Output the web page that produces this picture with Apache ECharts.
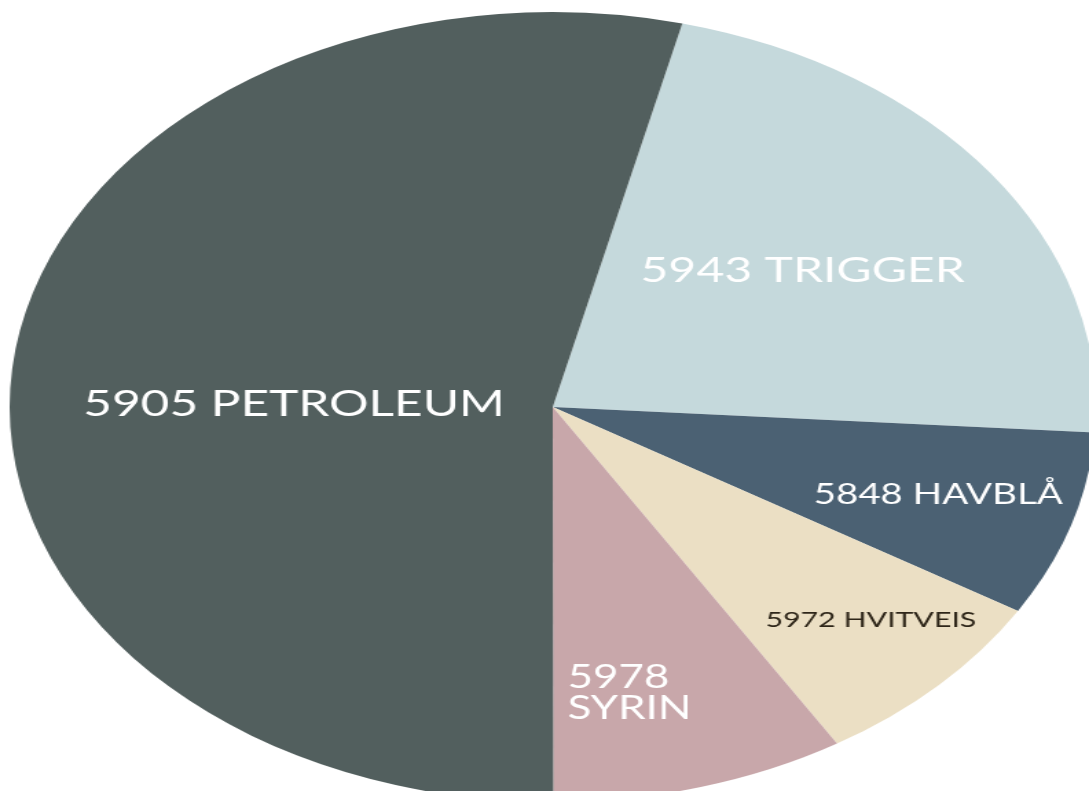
<!DOCTYPE html>
<html>
<head>
<meta charset="utf-8">
<style>
  html, body { margin: 0; padding: 0; background: #fff; overflow: hidden; }
  /* the pie is drawn round and stretched sideways into an ellipse */
  #echarts {
    position: absolute; left: 0; top: 0;
    width: 792px; height: 791px;
    transform: scaleX(1.375); transform-origin: 0 0;
  }
</style>
<script src="https://cdn.jsdelivr.net/npm/echarts@6/dist/echarts.min.js"></script>
</head>
<body>
<div id="echarts"></div>
<script>
// data, clockwise from the top
var names = ["5943 TRIGGER", "5848 HAVBLÅ", "5972 HVITVEIS", "5978\nSYRIN", "5905 PETROLEUM"];
var values = [22.2, 7.6, 7.6, 8.75, 53.85];
var colors = ["#c5d9dc", "#4b6173", "#ebdfc4", "#c8a7aa", "#525f5e"];

// label look
var labelSize = [35, 28, 22, 32, 36];
var labelColor = ["#fff", "#fff", "#2e2619", "#fff", "#fff"];
var labelShift = [[20, -18], [89, 28], [89, 72], [-44, 93], [11, 21]];
var labelAlign = ["center", "center", "center", "left", "center"];

var chartDom = document.getElementById("echarts");
var myChart = echarts.init(chartDom);
var option;

var data = names.map(function (n, i) {
  return {
    name: n,
    value: values[i],
    itemStyle: { color: colors[i] },
    label: {
      fontSize: labelSize[i],
      color: labelColor[i],
      lineHeight: i === 3 ? 31 : undefined,
    },
  };
});

option = {
  animation: false,
  series: [
    {
      type: "pie",
      radius: [0, 395],
      center: [402, 407],
      startAngle: 76.2,
      clockwise: true,
      silent: true,
      label: {
        show: true,
        position: "inside",
        formatter: "{b}",
        fontFamily: "Lato",
        fontWeight: "normal",
      },
      labelLine: { show: false },
      labelLayout: function (p) {
        var i = p.dataIndex;
        return { dx: labelShift[i][0], dy: labelShift[i][1], align: labelAlign[i] };
      },
      itemStyle: { borderWidth: 0 },
      data: data,
    },
  ],
};

option && myChart.setOption(option);
</script>
</body>
</html>
